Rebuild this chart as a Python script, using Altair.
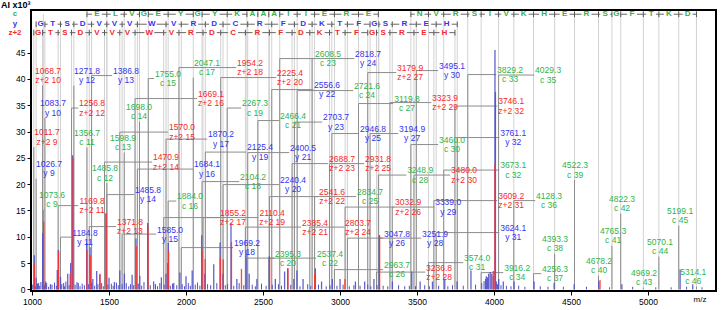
import altair as alt
import pandas as pd
import numpy as np

FONT = "Liberation Sans"
GREEN, BLUE, RED = "#2eb44c", "#3434f0", "#f52a2a"
SPEC_BLUE, SPEC_RED = "#5050c8", "#ff3030"

# ---------------- data ----------------
# (ion number, m/z, label centre m/z, label centre intensity)
c_ions = [
    (9, 1073.6, 1130, 17.07), (11, 1356.7, 1357, 28.86), (12, 1485.8, 1474, 22.11),
    (13, 1598.9, 1591, 27.91), (14, 1698.0, 1695, 33.80), (15, 1755.0, 1883, 40.07),
    (16, 1884.0, 2026, 16.79), (17, 2047.1, 2136, 42.16), (18, 2104.2, 2435, 20.49),
    (19, 2267.3, 2448, 34.47), (20, 2395.3, 2662, 5.95), (21, 2466.4, 2695, 32.09),
    (22, 2537.4, 2935, 5.95), (23, 2608.5, 2922, 43.87), (24, 2721.6, 3175, 37.79),
    (25, 2834.7, 3195, 17.64), (26, 2963.7, 3370, 3.76), (27, 3119.8, 3435, 35.32),
    (28, 3248.9, 3520, 21.73), (30, 3460.0, 3727, 27.53), (31, 3574.0, 3890, 5.09),
    (32, 3673.1, 4124, 22.68), (33, 3829.2, 4104, 40.83), (34, 3916.2, 4150, 3.19),
    (35, 4029.3, 4351, 40.74), (36, 4128.3, 4357, 16.88), (37, 4256.3, 4396, 3.00),
    (38, 4393.3, 4396, 8.71), (39, 4522.3, 4526, 22.68), (40, 4678.2, 4682, 4.52),
    (41, 4765.3, 4773, 10.23), (42, 4822.3, 4831, 16.31), (43, 4969.2, 4974, 2.24),
    (44, 5070.1, 5078, 8.14), (45, 5199.1, 5208, 14.03), (46, 5314.1, 5293, 2.43),
]
y_ions = [
    (9, 1026.7, 1110, 22.96), (10, 1083.7, 1136, 34.47), (11, 1184.8, 1344, 9.94),
    (12, 1271.8, 1357, 40.64), (13, 1386.8, 1610, 40.64), (14, 1485.8, 1753, 18.02),
    (15, 1585.0, 1896, 10.51), (16, 1684.1, 2136, 22.87), (17, 1870.2, 2227, 28.57),
    (18, 1969.2, 2396, 7.95), (19, 2125.4, 2481, 26.10), (20, 2240.4, 2695, 19.92),
    (21, 2400.5, 2760, 26.00), (22, 2556.6, 2916, 37.98), (23, 2703.7, 2974, 31.80),
    (24, 2818.7, 3182, 43.87), (25, 2946.8, 3214, 29.62), (26, 3047.8, 3370, 9.75),
    (27, 3194.9, 3468, 29.62), (28, 3251.9, 3617, 9.75), (29, 3339.0, 3702, 15.65),
    (30, 3495.1, 3727, 41.59), (31, 3624.1, 4124, 10.80), (32, 3761.1, 4124, 28.86),
]
z_ions = [
    (9, 1011.7, 1097, 28.95), (10, 1068.7, 1104, 40.64), (11, 1169.8, 1390, 15.93),
    (12, 1256.8, 1390, 34.47), (13, 1371.8, 1636, 11.94), (14, 1470.9, 1870, 24.20),
    (15, 1570.0, 1974, 29.90), (16, 1669.1, 2162, 36.27), (17, 1855.2, 2305, 13.65),
    (18, 1954.2, 2416, 42.16), (19, 2110.4, 2559, 13.65), (20, 2225.4, 2675, 40.26),
    (21, 2385.4, 2838, 11.84), (22, 2541.6, 2948, 17.64), (23, 2688.7, 3013, 23.91),
    (24, 2803.7, 3117, 11.84), (25, 2931.8, 3247, 23.91), (26, 3032.9, 3442, 15.65),
    (27, 3179.9, 3455, 41.21), (28, 3236.8, 3643, 3.29), (29, 3323.9, 3682, 35.51),
    (30, 3480.0, 3805, 21.73), (31, 3609.2, 4111, 16.88), (32, 3746.1, 4111, 34.85),
]

c_res_1 = "ELVGEYGYKAAAIIERE"      # c11 .. c28
c_res_2 = "NVRSIVKHERSGFTKD"       # c30 .. c46
yz_res = "GTSDVVVWVRDCRFDKTFGSREH"  # y9..y32 / z9..z32

blue_peaks = [(1015,6.5),(1027,2.2),(1042,1.2),(1069,10.7),(1088,1.5),(1120,1.0),(1164,3.7),(1171,7.5),
    (1185,2.4),(1205,1.2),(1232,3.0),(1251,5.0),(1264,25.5),(1300,1.2),(1355,8.8),(1377,8.0),(1395,2.0),
    (1420,3.5),(1440,2.8),(1480,14.4),(1500,2.2),(1535,1.4),(1570,3.6),(1600,3.0),(1650,2.8),(1675,9.7),
    (1700,2.6),(1751,12.6),(1790,1.5),(1840,2.3),(1870,3.0),(1885,8.8),(1920,1.2),(1960,3.2),(2000,2.5),
    (2040,3.6),(2102,10.3),(2122,3.0),(2180,4.8),(2221,8.9),(2240,3.0),(2292,12.6),(2330,2.0),(2390,7.5),
    (2410,3.0),(2460,2.0),(2541,6.3),(2580,2.0),(2640,3.4),(2660,4.0),(2700,2.0),(2720,3.6),(2760,2.0),
    (2840,4.0),(2880,1.5),(2950,2.0),(3000,2.0),(3100,1.5),(3160,1.5),(3220,2.0),(3255,10.3),(3340,1.5),
    (3466,3.4),(3520,1.5),(3600,1.5),(3680,2.0),(3760,1.5),(3850,3.6),(3950,2.5),(3965,3.0),(3975,3.3),
    (3985,3.0),(3995,2.5),(4006,45.5),(4009,37.5),(4030,2.0),(4060,1.5),(4130,1.5),(4260,1.5),(4390,1.2),
    (4520,1.0),(4680,1.5),(4830,1.0),(5208,3.8),(5290,1.0)]
red_peaks = [(1015,5.0),(1076,12.9),(1173,7.3),(1248,3.0),(1266,25.0),(1357,7.5),(1379,6.5),(1442,3.0),
    (1482,14.5),(1677,8.2),(1753,12.0),(1880,5.0),(1887,7.4),(2104,7.6),(2124,5.8),(2223,6.0),(2242,5.7),
    (2295,9.0),(2360,3.9),(2543,5.8),(2662,4.0),(2835,3.0),(3032,2.0),(3257,10.3),(3995,3.5),(4006,24.0),
    (4688,1.8)]
noise_peaks = [(1005,0.9),(1021,0.6),(1036,1.1),(1050,0.7),(1058,1.4),(1081,0.8),(1095,1.2),(1108,0.5),
    (1130,0.9),(1146,1.3),(1158,0.7),(1193,1.0),(1212,0.6),(1220,1.5),(1241,0.8),(1280,0.9),(1292,1.4),
    (1312,0.6),(1326,1.1),(1340,0.8),(1366,1.0),(1388,1.3),(1407,0.7),(1428,1.0),(1452,1.2),(1463,0.6),
    (1493,0.9),(1515,1.1),(1527,0.7),(1548,1.3),(1560,0.8),(1585,1.0),(1612,1.2),(1628,0.6),(1640,1.0),
    (1660,0.8),(1690,1.1),(1712,0.7),(1727,1.4),(1768,0.8),(1802,1.0),(1815,0.6),(1830,1.2),(1858,0.9),
    (1898,0.7),(1912,1.1),(1940,0.8),(1975,1.0),(1990,0.6),(2015,1.2),(2028,0.7),(2060,0.9),(2075,1.3),
    (2090,0.7),(2140,1.0),(2160,0.8),(2200,1.2),(2255,0.8),(2270,1.0),(2310,0.7),(2345,1.2),(2375,0.8),
    (2430,0.9),(2450,0.6),(2490,1.1),(2520,0.7),(2560,0.9),(2600,1.0),(2620,0.7),(2680,0.9),(2740,0.6),
    (2790,1.0),(2810,0.7),(2860,0.9),(2910,0.6),(2935,0.8),(2980,0.7),(3020,0.9),(3060,0.6),(3090,0.8),
    (3130,0.7),(3180,0.9),(3200,0.6),(3240,0.8),(3280,0.7),(3310,0.6),(3380,0.8),(3420,0.6),(3450,0.7),
    (3490,0.6),(3550,0.8),(3580,0.6),(3640,0.7),(3700,0.6),(3730,0.8),(3800,0.7),(3880,0.9),(3920,1.2),
    (3935,1.6),(3945,2.0),(3958,2.3),(4015,1.5),(4022,1.0),(4045,0.8),(4080,0.7),(4110,0.6),(4160,0.7),
    (4200,0.5),(4300,0.6),(4350,0.5),(4450,0.5),(4600,0.5),(4750,0.4),(4900,0.5),(5050,0.4),(5150,0.4),
    (5250,0.5),(5350,0.4)]

x_ticks = [1000, 1500, 2000, 2500, 3000, 3500, 4000, 4500, 5000]
y_ticks = [0, 5, 10, 15, 20, 25, 30, 35, 40, 45]

# ---------------- layout constants ----------------
ROW = {"c": 52.3, "y": 50.4, "z": 48.8}
PREFIX = {"c": "c", "y": "y", "z": "z+2"}
HW = 90      # half label width in m/z units
GAP = 32     # half letter gap in m/z units

xs = alt.Scale(domain=[993.5, 5441], nice=False, zero=False)
ys = alt.Scale(domain=[-0.3, 53.1], nice=False, zero=False)
xax = alt.Axis(values=x_ticks, format="d", title=None, grid=False, labelFont=FONT, labelFontSize=8.5,
               labelColor="black", tickColor="black", tickSize=4, labelPadding=2, domain=False,
               labelFlush=False)
yax = alt.Axis(values=y_ticks, format="d", title=None, grid=False, labelFont=FONT, labelFontSize=8.5,
               labelColor="black", tickColor="black", tickSize=4, labelPadding=2, domain=False)
colscale = alt.Scale(domain=["c", "y", "z"], range=[GREEN, BLUE, RED])


def X(f):
    return alt.X(f, type="quantitative", scale=xs, axis=xax)


def Y(f):
    return alt.Y(f, type="quantitative", scale=ys, axis=yax)


# labels table
rows = []
for kind, ions in [("c", c_ions), ("y", y_ions), ("z", z_ions)]:
    for num, mz, lx, ly in ions:
        rows.append(dict(kind=kind, mz=mz, lx=lx, ly=ly, val=f"{mz:.1f}",
                         ion=f"{PREFIX[kind]} {num}", row=ROW[kind], zero=0.0))
lab = pd.DataFrame(rows)
left = lab.lx - HW
right = lab.lx + HW
lab["h1"] = np.where(lab.mz < left, lab.mz, np.where(lab.mz > right, right, np.nan))
lab["h2"] = np.where(lab.mz < left, left, np.where(lab.mz > right, lab.mz, np.nan))
lab["vtop"] = np.where(lab.h1.isna(), lab.ly - 1.9, lab.ly)
hlead = lab.dropna(subset=["h1"])

# ladders
ticks, segs, letters = [], [], []


def add_ladder(kind, mzs, residues):
    r = ROW[kind]
    for m in mzs:
        ticks.append(dict(kind=kind, mz=m, lo=r - 0.55, hi=r + 0.55))
    for i, res in enumerate(residues):
        m1, m2 = mzs[i], mzs[i + 1]
        mc = (m1 + m2) / 2
        a, b = min(m2, mc - GAP), max(m1, mc + GAP)
        if a > m1:
            segs.append(dict(kind=kind, x1=m1, x2=a, row=r))
        if b < m2:
            segs.append(dict(kind=kind, x1=b, x2=m2, row=r))
        letters.append(dict(kind=kind, mz=mc, row=r, res=res))


cdict = {n: m for n, m, _, _ in c_ions}
add_ladder("c", [cdict[n] for n in range(11, 29)], c_res_1)
add_ladder("c", [cdict[n] for n in range(30, 47)], c_res_2)
add_ladder("y", [m for _, m, _, _ in y_ions], yz_res)
add_ladder("z", [m for _, m, _, _ in z_ions], yz_res)
ticks = pd.DataFrame(ticks)
segs = pd.DataFrame(segs)
letters = pd.DataFrame(letters)

spec_b = pd.DataFrame(blue_peaks, columns=["mz", "i"]).assign(zero=0.0)
spec_r = pd.DataFrame(red_peaks, columns=["mz", "i"]).assign(zero=0.0)
spec_n = pd.DataFrame(noise_peaks, columns=["mz", "i"]).assign(zero=0.0)

# ---------------- layers ----------------
grey_lines = alt.Chart(lab).mark_rule(color="#d2d2d2", strokeWidth=1).encode(
    x=X("mz"), y=Y("zero"), y2="row")
vlead = alt.Chart(lab).mark_rule(color="#8c8c8c", strokeWidth=1).encode(
    x=X("mz"), y=Y("zero"), y2="vtop")
hl = alt.Chart(hlead).mark_rule(color="#8c8c8c", strokeWidth=1).encode(
    x=X("h1"), x2="h2", y=Y("ly"))

noise = alt.Chart(spec_n).mark_rule(color=SPEC_BLUE, strokeWidth=1).encode(
    x=X("mz"), y=Y("zero"), y2="i")
blue = alt.Chart(spec_b).mark_rule(color=SPEC_BLUE, strokeWidth=1.3, opacity=0.9).encode(
    x=X("mz"), y=Y("zero"), y2="i")
red = alt.Chart(spec_r).mark_rule(color=SPEC_RED, strokeWidth=1.3, opacity=0.9).encode(
    x=X("mz"), y=Y("zero"), y2="i")

lad_ticks = alt.Chart(ticks).mark_rule(color="#555555", strokeWidth=1).encode(
    x=X("mz"), y=Y("lo"), y2="hi")
lad_segs = alt.Chart(segs).mark_rule(color="#666666", strokeWidth=1).encode(
    x=X("x1"), x2="x2", y=Y("row"))
lad_letters = alt.Chart(letters).mark_text(font=FONT, fontSize=8, fontWeight="bold",
                                           baseline="middle").encode(
    x=X("mz"), y=Y("row"), text="res:N", color=alt.Color("kind:N", scale=colscale, legend=None))

lab1 = alt.Chart(lab).mark_text(font=FONT, fontSize=8.5, baseline="middle", dy=-4.6).encode(
    x=X("lx"), y=Y("ly"), text="val:N", color=alt.Color("kind:N", scale=colscale, legend=None))
lab2 = alt.Chart(lab).mark_text(font=FONT, fontSize=8.5, baseline="middle", dy=4.6).encode(
    x=X("lx"), y=Y("ly"), text="ion:N", color=alt.Color("kind:N", scale=colscale, legend=None))

row_names = pd.DataFrame({"kind": ["c", "y", "z"], "name": ["c", "y", "z+2"],
                          "row": [ROW["c"], ROW["y"], ROW["z"]]})
row_lab = alt.Chart(row_names).mark_text(font=FONT, fontSize=8, fontWeight="bold",
                                         baseline="middle").encode(
    x=alt.value(-16), y=Y("row"), text="name:N",
    color=alt.Color("kind:N", scale=colscale, legend=None))

ai = alt.Chart(pd.DataFrame({"t": ["AI x10³"]})).mark_text(
    font=FONT, fontSize=9, fontWeight="bold", align="left", baseline="middle").encode(
    x=alt.value(-30), y=alt.value(-5), text="t:N")
mz_lab = alt.Chart(pd.DataFrame({"t": ["m/z"]})).mark_text(
    font=FONT, fontSize=8, align="center", baseline="middle").encode(
    x=alt.value(669), y=alt.value(290), text="t:N")

chart = alt.layer(
    grey_lines, vlead, hl, noise, blue, red, lad_ticks, lad_segs, lad_letters,
    lab1, lab2, row_lab, ai, mz_lab
).properties(
    width=685, height=281,
    autosize=alt.AutoSizeParams(type="none"),
    padding={"left": 31, "top": 10, "right": 6, "bottom": 19},
    background="white",
).configure_view(stroke="black", strokeWidth=2)

chart.save("out.html", embed_options={"renderer": "svg", "actions": False})
